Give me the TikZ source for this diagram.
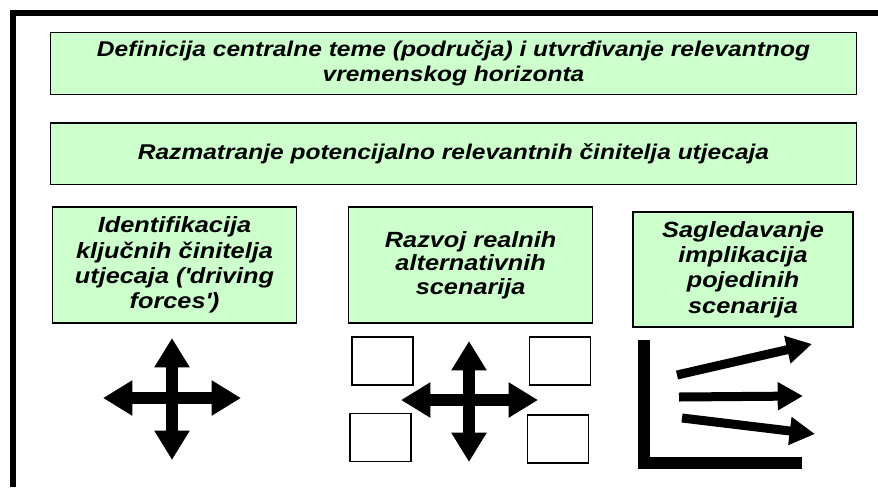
\documentclass[tikz,border=0pt]{standalone}
\usepackage{fontspec}
\usepackage{xcolor}
\usepackage{tikz}
\usetikzlibrary{arrows.meta, positioning}
\newfontfamily\slidefont[FakeStretch=1.15]{Liberation Sans}
\definecolor{slidegreen}{HTML}{CCFFCC}
\tikzset {
    stage/.style = {
        draw,
        fill = slidegreen,
        line width = 0.9pt,
        align = center,
        inner sep = 0pt,
        font = {\slidefont\bfseries\itshape\fontsize{16}{18.75}\selectfont}
    },
    wide stage/.style = {
        stage,
        minimum width = 605pt,
        minimum height = 47pt
    },
    small stage/.style = {
        stage,
        minimum width = 183pt,
        minimum height = 87pt,
        font = {\slidefont\bfseries\itshape\fontsize{16.5}{19}\selectfont}
    },
    blank/.style = {
        draw,
        fill = white,
        line width = 0.8pt,
        minimum width = 45.75pt,
        minimum height = 36pt
    },
    fat arrow/.style = {
        <->,
        >={Triangle[length=22pt, width=25pt]},
        line width = 9pt
    },
    trend/.style = {
        ->,
        >={Triangle[length=19pt, width=20pt]},
        line width = 6.75pt
    }
}
\begin{document}
\begin{tikzpicture}[x=0.75pt, y=-0.75pt]
        \useasboundingbox (0,0) rectangle (878,487);

        % Frame : thick edge on the left and on top
        \coordinate (frameb) at (12.5,487);
        \coordinate (framec) at (12.5,12.5);
        \coordinate (framer) at (878,12.5);
        \draw [line width=4.5pt] (frameb) -- (framec) -- (framer);

        % First and second row : the two wide steps
        \node [wide stage] at (453.5,63.5)                      (topic)     {Definicija centralne teme (područja) i utvrđivanje relevantnog\\ vremenskog horizonta};
        \node [wide stage, minimum height=46pt, below=20.25pt of topic] (factors) {Razmatranje potencijalno relevantnih činitelja utjecaja};

        % Third row : the three steps side by side
        \node [small stage] at (174.5,265)                      (keys)      {Identifikacija\\ ključnih činitelja\\ utjecaja (\textquotesingle{}driving\\ forces\textquotesingle)};
        \node [small stage, right=38.25pt of keys,
               font={\slidefont\bfseries\itshape\fontsize{16.5}{17.5}\selectfont}] (scen) {Razvoj realnih\\ alternativnih\\ scenarija};
        \node [small stage, minimum width=165pt, minimum height=86.25pt] at (743,269.5) (impl) {Sagledavanje\\ implikacija\\ pojedinih\\ scenarija};

        % Fourth row : crosses, scenario boxes, axes with trends
        \coordinate (kwest)  at (103,398);
        \coordinate (keast)  at (241,398);
        \coordinate (knorth) at (172,338);
        \coordinate (ksouth) at (172,460);

        \coordinate (swest)  at (401,400);
        \coordinate (seast)  at (538,400);
        \coordinate (snorth) at (469,341);
        \coordinate (ssouth) at (469,462);

        \node [blank] at (382.5,361)                            (alt11)     {};
        \node [blank] at (380.5,437.5)                          (alt21)     {};
        \node [blank] at (560,361)                              (alt12)     {};
        \node [blank] at (558,439)                              (alt22)     {};

        \coordinate (ytop)   at (644,340);
        \coordinate (origin) at (644,462.5);
        \coordinate (xend)   at (802,462.5);

        \coordinate (up0)    at (677,375);
        \coordinate (up1)    at (812,344);
        \coordinate (flat0)  at (679,397);
        \coordinate (flat1)  at (803,396);
        \coordinate (down0)  at (682,418);
        \coordinate (down1)  at (815,434);

        \draw [fat arrow]       (kwest)     --  (keast);
        \draw [fat arrow]       (knorth)    --  (ksouth);
        \draw [fat arrow]       (swest)     --  (seast);
        \draw [fat arrow]       (snorth)    --  (ssouth);

        \draw [line width=9pt]  (ytop) -- (origin) -- (xend);
        \draw [trend]           (up0)       --  (up1);
        \draw [trend]           (flat0)     --  (flat1);
        \draw [trend]           (down0)     --  (down1);
\end{tikzpicture}
\end{document}
